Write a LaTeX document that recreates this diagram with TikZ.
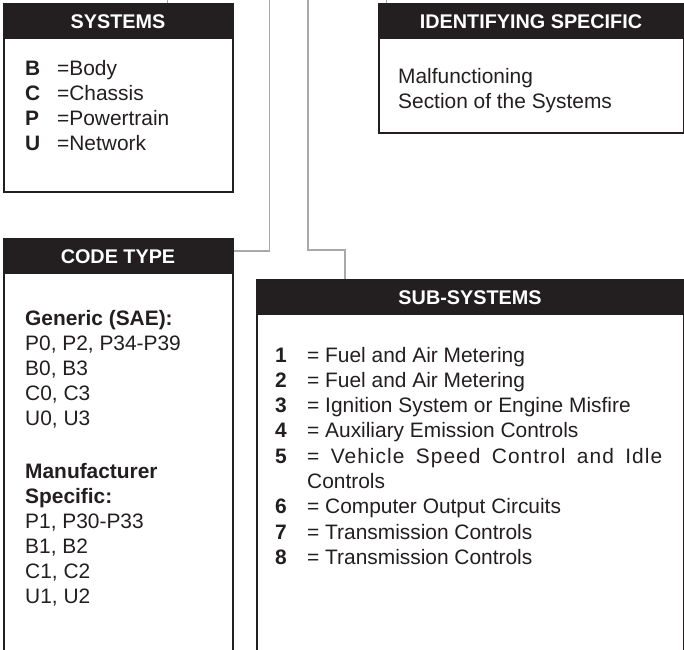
\documentclass[tikz,border=0pt]{standalone}
\usepackage{fontspec}
\setmainfont{Liberation Sans}
\definecolor{ink}{HTML}{231F20}
\definecolor{wirec}{HTML}{A7A9AC}
\begin{document}
\begin{tikzpicture}[x=1pt,y=-1pt,
  box/.style={draw=ink, line width=1.8pt, fill=white, anchor=north west, inner sep=0pt},
  head/.style={draw=ink, fill=ink, line width=1pt, anchor=north west, inner sep=0pt, text=white,
    font=\fontsize{19.8}{24}\selectfont\bfseries, minimum height=35pt, text height=14.2pt, text depth=0pt},
  txt/.style={anchor=base west, inner sep=0pt, text=ink, font=\fontsize{20.9}{25}\selectfont},
  wire/.style={draw=wirec, line width=1.6pt}]
\clip (0,0) rectangle (684,649);
\fill[white] (0,0) rectangle (684,649);

% boxes
\node[box, minimum width=229pt, minimum height=188pt] (sys) at (3,3) {};
\node[box, minimum width=305pt, minimum height=129pt] (ident) at (378,3) {};
\node[box, minimum width=229pt, minimum height=430pt] (code) at (3,238) {};
\node[box, minimum width=427pt, minimum height=400pt] (sub) at (256,279) {};

% connectors
\coordinate (tA) at (167.5,0);
\coordinate (tB) at (386.5,0);
\coordinate (tC) at (269.5,0);
\coordinate (jC) at (269.5,251);
\coordinate (tD) at (308,0);
\coordinate (jD) at (345,250);
\draw[wire] (tA) -- (tA |- sys.north);
\draw[wire] (tB) -- (tB |- ident.north);
\draw[wire] (tC) -- (jC) -- (jC -| code.east);
\draw[wire] (tD) |- (jD) -- (jD |- sub.north);

% headers
\node[head, minimum width=229pt] (syshead) at (sys.north west) {SYSTEMS};
\node[head, minimum width=305pt] (identhead) at (ident.north west) {IDENTIFYING SPECIFIC};
\node[head, minimum width=229pt] (codehead) at (code.north west) {CODE TYPE};
\node[head, minimum width=427pt] (subhead) at (sub.north west) {SUB-SYSTEMS};

% systems
\node[txt] (sb) at (25,75) {\textbf{B}};
\node[txt] (sbt) at (57,75) {=Body};
\node[txt] (sc) at (25,100) {\textbf{C}};
\node[txt] (sct) at (57,100) {=Chassis};
\node[txt] (sp) at (25,125) {\textbf{P}};
\node[txt] (spt) at (57,125) {=Powertrain};
\node[txt] (su) at (25,150) {\textbf{U}};
\node[txt] (sut) at (57,150) {=Network};

% identifying
\node[txt] (id1) at (398,83) {Malfunctioning};
\node[txt] (id2) at (398,108.5) {Section of the Systems};

% code type
\node[txt] (c1) at (25,325) {\textbf{Generic (SAE):}};
\node[txt] (c2) at (25,350) {P0, P2, P34-P39};
\node[txt] (c3) at (25,375) {B0, B3};
\node[txt] (c4) at (25,400) {C0, C3};
\node[txt] (c5) at (25,425) {U0, U3};
\node[txt] (c6) at (25,478) {\textbf{Manufacturer}};
\node[txt] (c7) at (25,503) {\textbf{Specific:}};
\node[txt] (c8) at (25,528) {P1, P30-P33};
\node[txt] (c9) at (25,553) {B1, B2};
\node[txt] (c10) at (25,578) {C1, C2};
\node[txt] (c11) at (25,603) {U1, U2};

% sub-systems
\node[txt] (n1) at (275,362) {\textbf{1}};
\node[txt] (t1) at (307,362) {= Fuel and Air Metering};
\node[txt] (n2) at (275,387.3) {\textbf{2}};
\node[txt] (t2) at (307,387.3) {= Fuel and Air Metering};
\node[txt] (n3) at (275,412.6) {\textbf{3}};
\node[txt] (t3) at (307,412.6) {= Ignition System or Engine Misfire};
\node[txt] (n4) at (275,437.9) {\textbf{4}};
\node[txt] (t4) at (307,437.9) {= Auxiliary Emission Controls};
\node[txt] (n5) at (275,463.2) {\textbf{5}};
\node[txt] (t5) at (307,463.2) {\makebox[355pt][s]{\addfontfeature{LetterSpace=5}= Vehicle Speed Control and Idle}};
\node[txt] (t5b) at (307,488.5) {Controls};
\node[txt] (n6) at (275,513.8) {\textbf{6}};
\node[txt] (t6) at (307,513.8) {= Computer Output Circuits};
\node[txt] (n7) at (275,539.1) {\textbf{7}};
\node[txt] (t7) at (307,539.1) {= Transmission Controls};
\node[txt] (n8) at (275,564.4) {\textbf{8}};
\node[txt] (t8) at (307,564.4) {= Transmission Controls};
\end{tikzpicture}
\end{document}
